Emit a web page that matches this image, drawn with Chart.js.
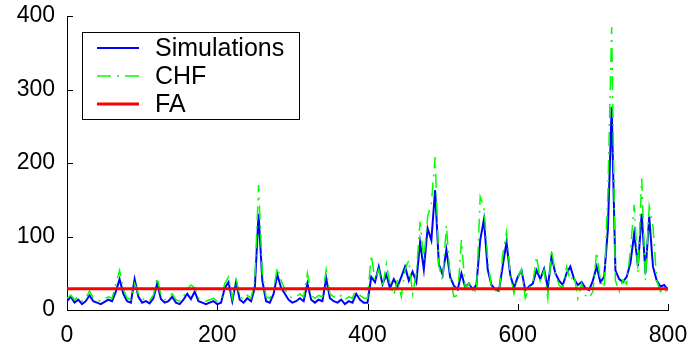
<!DOCTYPE html>
<html lang="en">
<head>
<meta charset="UTF-8" />
<title>Simulations vs CHF vs FA</title>
<script src="https://cdn.jsdelivr.net/npm/chart.js"></script>
<style>
  html, body { margin: 0; padding: 0; background: #fff; }
  #wrap { width: 695px; height: 352px; }
</style>
</head>
<body>
<div id="wrap"><canvas id="chart" width="695" height="352"></canvas></div>
<script>
  // sample spacing along x (0..800)
  const step = 5;

  const simValues = [
    12, 18, 10, 14, 8, 12, 20, 12, 10, 8,
    11, 14, 12, 25, 42, 22, 12, 10, 42, 18,
    10, 12, 9, 16, 36, 15, 10, 12, 18, 10,
    8, 14, 22, 15, 25, 12, 10, 8, 10, 12,
    8, 10, 30, 38, 12, 38, 14, 10, 16, 12,
    30, 131, 40, 12, 10, 22, 48, 30, 22, 14,
    10, 12, 16, 12, 36, 14, 10, 14, 12, 43,
    16, 12, 10, 14, 8, 12, 10, 22, 14, 10,
    10, 45, 38, 59, 35, 48, 30, 42, 32, 45,
    59, 40, 52, 38, 92, 55, 111, 95, 163, 62,
    48, 82, 45, 33, 28, 50, 31, 36, 28, 34,
    95, 123, 55, 34, 28, 26, 60, 92, 48, 30,
    45, 54, 27, 32, 36, 54, 42, 56, 30, 73,
    50, 40, 34, 50, 59, 42, 34, 38, 30, 27,
    40, 59, 38, 45, 110, 276, 54, 42, 38, 45,
    64, 104, 60, 131, 50, 127, 59, 40, 32, 34,
    27
  ];

  const chfValues = [
    16, 20, 14, 18, 12, 16, 26, 16, 14, 12,
    15, 18, 16, 35, 54, 28, 16, 14, 36, 22,
    14, 16, 13, 20, 44, 20, 14, 16, 22, 14,
    12, 18, 28, 34, 30, 16, 14, 12, 14, 16,
    12, 14, 36, 45, 16, 43, 18, 14, 20, 16,
    40, 170, 50, 18, 16, 28, 58, 40, 28, 20,
    16, 18, 22, 18, 50, 20, 16, 20, 18, 55,
    22, 18, 16, 20, 14, 18, 16, 31, 20, 16,
    16, 75, 40, 55, 30, 63, 35, 20, 42, 18,
    55, 68, 22, 50, 120, 68, 127, 145, 208, 60,
    40, 115, 45, 18, 20, 95, 30, 36, 30, 23,
    154, 140, 70, 30, 27, 22, 75, 106, 50, 22,
    45, 55, 16, 30, 36, 73, 40, 54, 16, 82,
    50, 34, 30, 59, 40, 48, 16, 36, 20, 16,
    25, 79, 40, 30, 160, 385, 40, 25, 41, 35,
    82, 143, 50, 179, 40, 141, 113, 40, 25, 30,
    20
  ];

  const faLevel = 29;
  const xRange = [0, 800];
  const xTicks = [0, 200, 400, 600, 800];
  const yTicks = [0, 100, 200, 300, 400];

  const legendNames = ['Simulations', 'CHF', 'FA'];

  const toPoints = arr => arr.map((v, i) => ({ x: i * step, y: v }));

  // inward tick marks, only on left and bottom axes
  const tickMarks = {
    id: 'tickMarks',
    afterDraw(chart) {
      const { ctx, chartArea: a, scales: { x, y } } = chart;
      ctx.save();
      ctx.strokeStyle = '#000';
      ctx.lineWidth = 1;
      ctx.beginPath();
      xTicks.forEach(t => {
        const px = Math.round(x.getPixelForValue(t)) + 0.5;
        ctx.moveTo(px, a.bottom);
        ctx.lineTo(px, a.bottom - 6);
      });
      yTicks.forEach(t => {
        const py = Math.round(y.getPixelForValue(t)) + 0.5;
        ctx.moveTo(a.left, py);
        ctx.lineTo(a.left + 6, py);
      });
      ctx.stroke();
      ctx.restore();
    }
  };

  // boxed legend in the upper-left corner of the plot
  const boxLegend = {
    id: 'boxLegend',
    afterDraw(chart) {
      const { ctx } = chart;
      const left = 82, top = 32, w = 217, h = 87;
      ctx.save();
      ctx.fillStyle = '#fff';
      ctx.fillRect(left, top, w, h);
      ctx.strokeStyle = '#000';
      ctx.lineWidth = 1;
      ctx.strokeRect(left + 0.5, top + 0.5, w, h);
      const rows = [48, 76, 104];
      ctx.font = '25px "Liberation Sans", Arial, sans-serif';
      ctx.textBaseline = 'middle';
      legendNames.forEach((name, k) => {
        const ds = chart.data.datasets.find(d => d.label === name);
        ctx.save();
        ctx.strokeStyle = ds.borderColor;
        ctx.lineWidth = ds.borderWidth;
        ctx.setLineDash(ds.borderDash || []);
        ctx.beginPath();
        ctx.moveTo(97, rows[k]);
        ctx.lineTo(139, rows[k]);
        ctx.stroke();
        ctx.restore();
        ctx.fillStyle = '#000';
        ctx.fillText(name, 155, rows[k] + 1);
      });
      ctx.restore();
    }
  };

  const tickFont = { family: '"Liberation Sans", Arial, sans-serif', size: 23 };

  new Chart(document.getElementById('chart').getContext('2d'), {
    type: 'line',
    data: {
      datasets: [
        {
          label: 'FA',
          data: [{ x: xRange[0], y: faLevel }, { x: xRange[1], y: faLevel }],
          borderColor: '#ff0000',
          borderWidth: 3,
          order: 0
        },
        {
          label: 'CHF',
          data: toPoints(chfValues),
          borderColor: '#00ff00',
          borderWidth: 1.5,
          borderDash: [14, 6, 2, 6],
          order: 1
        },
        {
          label: 'Simulations',
          data: toPoints(simValues),
          borderColor: '#0000ff',
          borderWidth: 2,
          order: 2
        }
      ]
    },
    options: {
      responsive: false,
      animation: false,
      layout: { padding: { top: 16, right: 27, left: 0, bottom: 0 } },
      elements: {
        point: { radius: 0 },
        line: { tension: 0, fill: false }
      },
      plugins: {
        legend: { display: false },
        tooltip: { enabled: false }
      },
      scales: {
        x: {
          type: 'linear',
          min: xRange[0],
          max: xRange[1],
          afterBuildTicks: s => { s.ticks = xTicks.map(v => ({ value: v })); },
          afterFit: s => { s.height = 42; s.paddingLeft = 0; s.paddingRight = 0; },
          grid: { display: true, drawOnChartArea: false, drawTicks: false },
          border: { display: true, color: '#000', width: 1 },
          ticks: { color: '#000', padding: 12, maxRotation: 0, font: tickFont }
        },
        y: {
          min: 0,
          max: 400,
          afterBuildTicks: s => { s.ticks = yTicks.map(v => ({ value: v })); },
          afterFit: s => { s.width = 67; s.paddingTop = 0; s.paddingBottom = 0; },
          grid: { display: true, drawOnChartArea: false, drawTicks: false },
          border: { display: true, color: '#000', width: 1 },
          ticks: { color: '#000', padding: 12, font: tickFont }
        }
      }
    },
    plugins: [tickMarks, boxLegend]
  });
</script>
</body>
</html>
